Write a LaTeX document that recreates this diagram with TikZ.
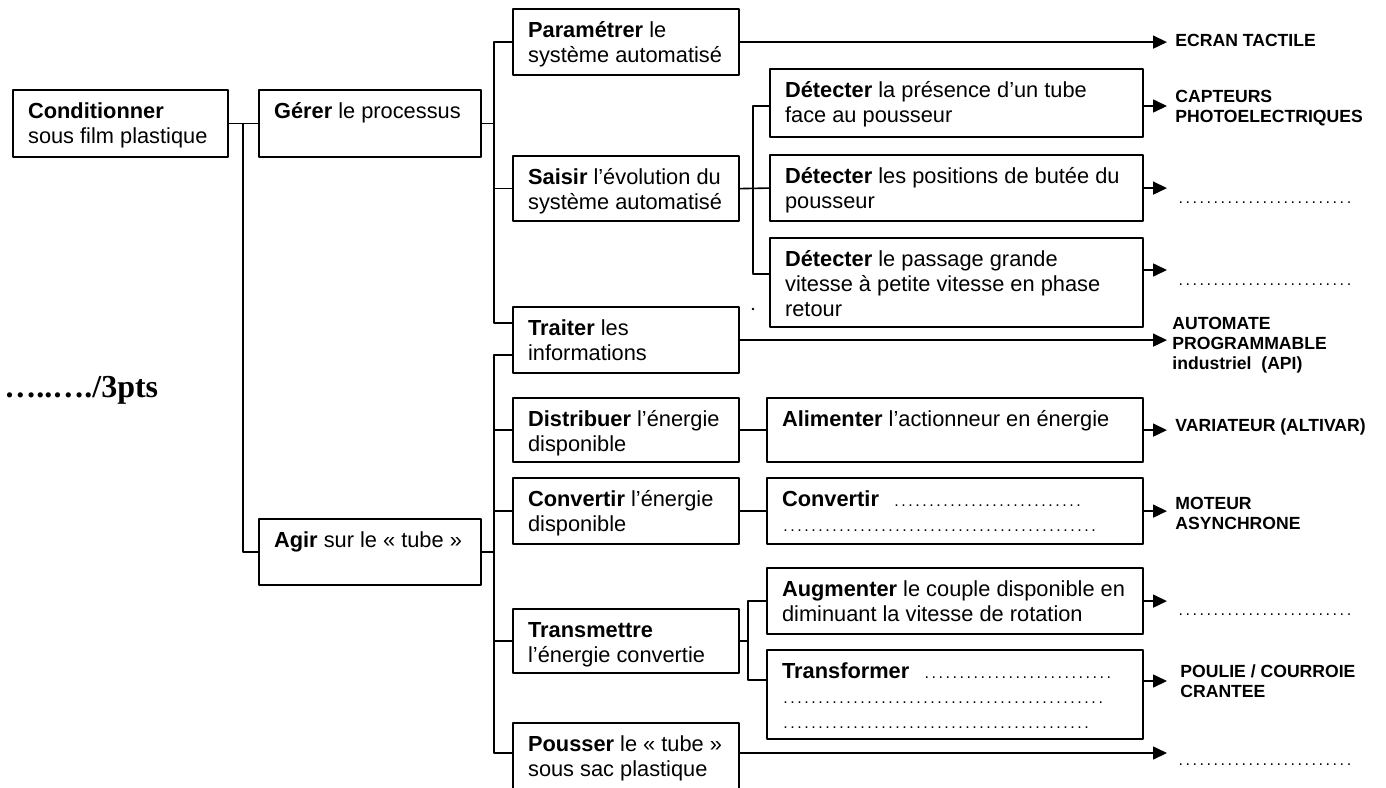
\documentclass[tikz,border=0pt]{standalone}
\usepackage{fontspec}
\setmainfont{Liberation Sans}
\newfontfamily\notefont{Liberation Serif}
\usetikzlibrary{arrows.meta}
\newcommand{\cel}[3]{\parbox[t][\dimexpr #2pt*1/2-10.5pt\relax][t]{\dimexpr #1pt*1/2-15pt\relax}{\strut #3}}
\newcommand{\pointilles}[1]{\hbox to #1{\leaders\hbox to 3.5pt{\hss\fontsize{8}{8}\selectfont.\hss}\hfill}}
\begin{document}
\begin{tikzpicture}[x=0.5pt, y=-0.5pt, line join=round, line cap=round, >={Triangle[length=7pt,width=6.5pt]}]
	\tikzset{boite/.style={draw, line width=1.1pt, anchor=north west, inner xsep=7.5pt, inner ysep=5.25pt, font=\fontsize{10.9}{12.5}\selectfont},
		etiq/.style={anchor=west, align=left, inner sep=0pt, font=\fontsize{8.8}{10}\selectfont\bfseries},
		lien/.style={line width=0.8pt},
		fleche/.style={line width=0.8pt, ->}}
	\useasboundingbox (0,0) rectangle (1386,787);
	\node[anchor=west, inner sep=0pt, font=\notefont\fontsize{16}{18}\selectfont\bfseries] (note) at (4,390) {…..…./3pts};
	\node[boite] (cond) at (12,89) {\cel{215}{67}{\textbf{Conditionner}\\sous film plastique}};
	\node[boite] (gerer) at (258,89) {\cel{222}{67}{\textbf{Gérer} le processus}};
	\node[boite] (agir) at (258,518) {\cel{222}{66}{\textbf{Agir} sur le « tube »}};
	\node[boite] (param) at (512,8) {\cel{226}{66}{\textbf{Paramétrer} le\\système automatisé}};
	\node[boite] (saisir) at (512,155) {\cel{226}{65}{\textbf{Saisir} l’évolution du\\système automatisé}};
	\node[boite] (traiter) at (512,306) {\cel{226}{66}{\textbf{Traiter} les\\informations}};
	\node[boite] (distrib) at (512,397) {\cel{226}{64}{\textbf{Distribuer} l’énergie\\disponible}};
	\node[boite] (convE) at (512,477) {\cel{226}{66}{\textbf{Convertir} l’énergie\\disponible}};
	\node[boite] (transm) at (512,608) {\cel{226}{64}{\textbf{Transmettre}\\l’énergie convertie}};
	\node[boite] (pousser) at (512,722) {\cel{226}{80}{\textbf{Pousser} le « tube »\\sous sac plastique}};
	\node[boite] (det1) at (769,68) {\cel{373}{68}{\textbf{Détecter} la présence d’un tube\\face au pousseur}};
	\node[boite] (det2) at (769,154) {\cel{373}{66}{\textbf{Détecter} les positions de butée du\\pousseur}};
	\node[boite] (det3) at (769,237) {\cel{373}{89}{\textbf{Détecter} le passage grande\\vitesse à petite vitesse en phase\\retour}};
	\node[boite] (alim) at (766,397) {\cel{376}{64}{\textbf{Alimenter} l’actionneur en énergie}};
	\node[boite] (convS) at (766,477) {\cel{376}{66}{\textbf{Convertir}\hspace{7pt}\pointilles{96pt}\\\pointilles{158pt}}};
	\node[boite] (augm) at (766,567) {\cel{376}{66}{\textbf{Augmenter} le couple disponible en\\diminuant la vitesse de rotation}};
	\node[boite] (transf) at (766,649) {\cel{376}{89}{\textbf{Transformer}\hspace{7pt}\pointilles{96pt}\\\pointilles{162pt}\\\pointilles{154pt}}};
	\node[etiq] (ecran) at (1175,40) {ECRAN TACTILE};
	\node[etiq] (capt) at (1175,108) {CAPTEURS\\PHOTOELECTRIQUES};
	\node[etiq] (auto) at (1172,345) {AUTOMATE\\PROGRAMMABLE\\industriel\ \ (API)};
	\node[etiq] (var) at (1175,427) {VARIATEUR (ALTIVAR)};
	\node[etiq] (moteur) at (1175,513) {MOTEUR\\ASYNCHRONE};
	\node[etiq] (poulie) at (1180,681) {POULIE / COURROIE\\CRANTEE};
	\foreach \n/\y in {r1/203, r2/285, r3/615, r4/765}
	\node[anchor=base west, inner sep=0pt] (\n) at (1177,\y) {\pointilles{89pt}};
	\coordinate (k1) at (243,0);
	\coordinate (k2) at (494,0);
	\coordinate (j1) at (494,323);
	\coordinate (j2) at (494,355);
	\coordinate (j3) at (494,753);
	\coordinate (s1) at (753,106);
	\coordinate (s3) at (753,274);
	\coordinate (m1) at (748,601);
	\coordinate (m2) at (748,680);
	\coordinate (f) at (1167,0);
	\coordinate (f1) at (1167,106);
	\coordinate (f3) at (1167,270);
	\coordinate (f6) at (1167,681);
	\draw[lien] (cond.east) -- (gerer.west);
	\draw[lien] (cond.east -| k1) |- (agir.west);
	\draw[lien] (gerer.east) -- (gerer.east -| k2);
	\draw[lien] (param.west) -| (j1) -- (j1 -| traiter.west);
	\draw[lien] (saisir.west) -- (saisir.west -| k2);
	\draw[lien] (j2 -| traiter.west) -- (j2) -- (j3) -- (j3 -| pousser.west);
	\foreach \b in {distrib, convE, transm}
	\draw[lien] (\b.west) -- (\b.west -| k2);
	\draw[lien] (agir.east) -- (agir.east -| k2);
	\draw[lien] (saisir.east) -- (det2.west);
	\draw[lien] (s1 -| det1.west) -- (s1) -- (s3) -- (s3 -| det3.west);
	\draw[lien] (distrib.east) -- (alim.west);
	\draw[lien] (convE.east) -- (convS.west);
	\draw[lien] (transm.east) -- (transm.east -| m1);
	\draw[lien] (m1 -| augm.west) -- (m1) -- (m2) -- (m2 -| transf.west);
	\foreach \a in {param, det2, traiter, alim, convS, augm}
	\draw[fleche] (\a.east) -- (\a.east -| f);
	\draw[fleche] (det1.east |- f1) -- (f1);
	\draw[fleche] (det3.east |- f3) -- (f3);
	\draw[fleche] (transf.east |- f6) -- (f6);
	\draw[fleche] (j3 -| pousser.east) -- (j3 -| f);
	\fill (753,309) circle (0.7pt);
\end{tikzpicture}
\end{document}
